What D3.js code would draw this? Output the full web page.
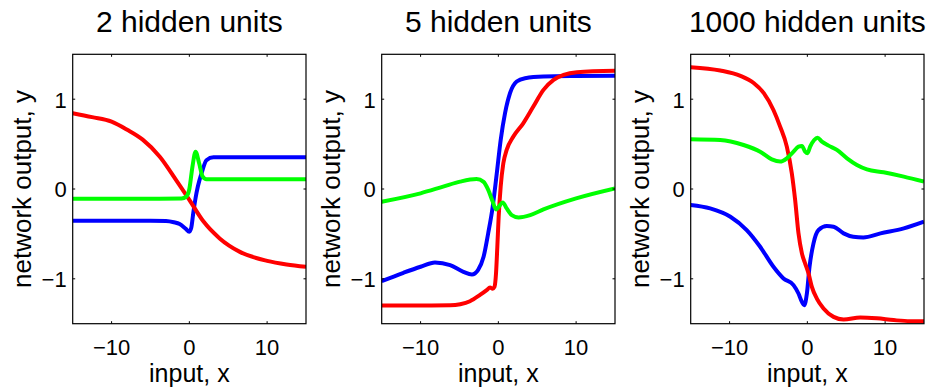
<!DOCTYPE html>
<html>
<head>
<meta charset="utf-8">
<script src="https://cdn.jsdelivr.net/npm/d3@7"></script>
<style>
  body { margin: 0; padding: 0; background: #fff; }
  svg { display: block; font-family: "Liberation Sans", Arial, Helvetica, sans-serif; }
</style>
</head>
<body>
<svg id="chart" width="933" height="389"></svg>
<script>
// panel titles
const titles = ["2 hidden units", "5 hidden units", "1000 hidden units"];
const xTicks = [-10, 0, 10];
const yTicks = [-1, 0, 1];

// curves, [x, y]
const p1Blue = [[-15,-0.353],[-10,-0.353],[-5,-0.353],[-3,-0.356],[-2,-0.37],[-1.25,-0.39],[-0.5,-0.44],[0,-0.476],[0.25,-0.43],[0.5,-0.27],[0.8,-0.1],[1.1,0.03],[1.55,0.17],[2.2,0.32],[3.1,0.353],[5,0.353],[10,0.353],[15,0.353]];
const p1Red = [[-15,0.844],[-12.5,0.80],[-10,0.75],[-8,0.66],[-6,0.55],[-3.8,0.36],[-1.7,0.1],[0,-0.12],[1.8,-0.36],[3.9,-0.55],[6.5,-0.70],[10,-0.80],[12.5,-0.84],[15,-0.866]];
const p1Green = [[-15,-0.108],[-10,-0.108],[-5,-0.108],[-1,-0.105],[-0.4,-0.085],[0,0.0],[0.4,0.25],[0.8,0.416],[1.25,0.29],[1.7,0.14],[2.2,0.108],[3,0.108],[10,0.108],[15,0.108]];

const p2Blue = [[-15,-1.026],[-12.2,-0.933],[-10,-0.866],[-8.15,-0.818],[-6.2,-0.848],[-4.5,-0.922],[-3.4,-0.952],[-2.6,-0.90],[-1.9,-0.755],[-1.3,-0.49],[-0.73,-0.2],[-0.2,0.175],[0.3,0.546],[0.86,0.844],[1.5,1.067],[2.36,1.197],[3.43,1.234],[5.8,1.253],[10,1.258],[15,1.26]];
const p2Red = [[-15,-1.297],[-10,-1.297],[-6.2,-1.295],[-4.9,-1.283],[-3.65,-1.25],[-2.36,-1.18],[-1.5,-1.126],[-1.07,-1.097],[-0.73,-1.11],[-0.5,-1.09],[-0.3,-0.94],[-0.13,-0.64],[0.04,-0.31],[0.3,0.026],[0.64,0.286],[1.07,0.435],[1.93,0.584],[3.2,0.732],[4.5,0.918],[5.8,1.104],[7.1,1.216],[8.4,1.271],[10.1,1.30],[15,1.316]];
const p2Green = [[-15,-0.141],[-10,-0.048],[-7.1,0.026],[-4.9,0.082],[-2.8,0.11],[-1.9,0.08],[-1.3,-0.01],[-0.73,-0.14],[-0.3,-0.227],[0.04,-0.2],[0.56,-0.149],[1.07,-0.216],[1.72,-0.29],[2.6,-0.316],[4.1,-0.29],[5.8,-0.227],[10,-0.104],[15,0.007]];

const p3Blue = [[-15,-0.178],[-12.5,-0.216],[-9.9,-0.309],[-7.8,-0.457],[-6.07,-0.643],[-4.36,-0.866],[-3.07,-0.996],[-1.78,-1.07],[-1.14,-1.164],[-0.7,-1.257],[-0.4,-1.294],[-0.06,-1.164],[0.28,-0.866],[0.79,-0.606],[1.44,-0.457],[2.5,-0.413],[3.37,-0.42],[4.66,-0.494],[5.9,-0.532],[7.2,-0.539],[9.4,-0.494],[12.4,-0.439],[15,-0.364]];
const p3Red = [[-15,1.357],[-11.2,1.32],[-8.6,1.26],[-6.9,1.18],[-5.6,1.067],[-4.36,0.88],[-3.5,0.695],[-2.64,0.472],[-2.0,0.175],[-1.57,-0.123],[-1.14,-0.494],[-0.7,-0.717],[-0.28,-0.83],[0.15,-0.94],[0.58,-1.09],[1.22,-1.22],[2.08,-1.33],[3.37,-1.424],[4.66,-1.454],[6.8,-1.43],[8.95,-1.44],[11.1,-1.46],[13.2,-1.472],[15,-1.472]];
const p3Green = [[-15,0.554],[-11.2,0.546],[-8.2,0.49],[-6.07,0.416],[-4.57,0.33],[-3.5,0.305],[-2.64,0.342],[-1.78,0.416],[-1.14,0.472],[-0.7,0.48],[-0.28,0.416],[0.02,0.398],[0.36,0.472],[0.88,0.546],[1.3,0.572],[1.87,0.528],[2.73,0.483],[3.8,0.435],[5.1,0.342],[6.37,0.268],[7.66,0.219],[9.8,0.186],[12.4,0.138],[15,0.082]];

const panels = [
  { title: titles[0], series: [p1Blue, p1Red, p1Green] },
  { title: titles[1], series: [p2Blue, p2Red, p2Green] },
  { title: titles[2], series: [p3Blue, p3Red, p3Green] }
];
const colors = ["#0000ff", "#ff0000", "#00ff00"];

const svg = d3.select("#chart");
const lefts = [72.7, 381.7, 690.7];
const plotTop = 54.3, pw = 233.3, ph = 269.4;
const tickLen = 2.5;
const fmt = d => d < 0 ? "\u2212" + Math.abs(d) : String(d);

panels.forEach((p, i) => {
    let g = svg.append("g").attr("transform", `translate(${lefts[i]},${plotTop})`);

    let x = d3.scaleLinear().domain([-15, 15]).range([0, pw]);
    let y = d3.scaleLinear().domain([-1.5, 1.5]).range([ph, 0]);

    g.append("clipPath").attr("id", "clip" + i)
        .append("rect").attr("width", pw).attr("height", ph);

    let line = d3.line()
        .x(d => x(d[0]))
        .y(d => y(d[1]))
        .curve(d3.curveMonotoneX);

    g.append("g").attr("clip-path", `url(#clip${i})`)
        .selectAll("path")
        .data(p.series)
        .enter()
        .append("path")
        .attr("d", d => line(d))
        .style("fill", "none")
        .style("stroke", (d, j) => colors[j])
        .style("stroke-width", 4)
        .style("stroke-linejoin", "round");

    // ticks inside the box, on all four sides
    g.selectAll(".xt").data(xTicks).enter().append("path")
        .attr("d", d => `M${x(d)},${ph}v${-tickLen}M${x(d)},0v${tickLen}`)
        .style("stroke", "#000").style("stroke-width", 1);
    g.selectAll(".yt").data(yTicks).enter().append("path")
        .attr("d", d => `M0,${y(d)}h${tickLen}M${pw},${y(d)}h${-tickLen}`)
        .style("stroke", "#000").style("stroke-width", 1);

    g.append("rect")
        .attr("width", pw).attr("height", ph)
        .style("fill", "none").style("stroke", "#000").style("stroke-width", 1.2);

    g.selectAll(".xl").data(xTicks).enter().append("text")
        .attr("x", d => x(d)).attr("y", ph + 31)
        .attr("text-anchor", "middle")
        .style("font-size", "22px")
        .text(fmt);
    g.selectAll(".yl").data(yTicks).enter().append("text")
        .attr("x", -6).attr("y", d => y(d)).attr("dy", "0.38em")
        .attr("text-anchor", "end")
        .style("font-size", "22px")
        .text(fmt);

    g.append("text")
        .attr("x", pw / 2).attr("y", -22)
        .attr("text-anchor", "middle")
        .style("font-size", "30px")
        .text(p.title);
    g.append("text")
        .attr("x", pw / 2).attr("y", ph + 58.5)
        .attr("text-anchor", "middle")
        .style("font-size", "25px")
        .text("input, x");
    g.append("text")
        .attr("transform", `translate(-42,${ph / 2}) rotate(-90)`)
        .attr("text-anchor", "middle")
        .style("font-size", "26px")
        .text("network output, y");
});
</script>
</body>
</html>
